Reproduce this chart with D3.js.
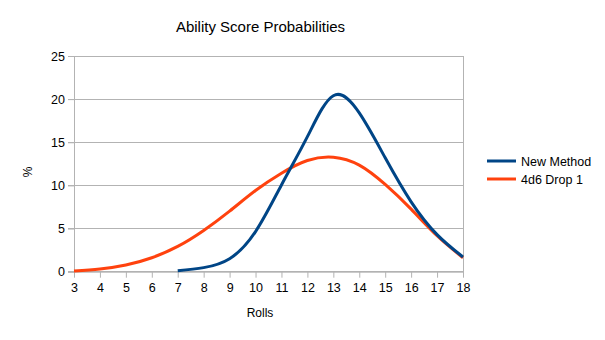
<!DOCTYPE html>
<html>
<head>
<meta charset="utf-8">
<script src="https://cdn.jsdelivr.net/npm/d3@7"></script>
<style>
  html, body { margin: 0; padding: 0; background: #fff; }
  svg { display: block; font-family: "Liberation Sans", Arial, sans-serif; }
</style>
</head>
<body>
<svg id="chart" width="605" height="340"></svg>
<script>
// Roll totals on the x axis
const rolls = [3, 4, 5, 6, 7, 8, 9, 10, 11, 12, 13, 14, 15, 16, 17, 18];
// Percent chance of each total (null where the method cannot produce it)
const newMethod = [null, null, null, null, 0.1, 0.47, 1.5, 4.65, 10.05, 15.65, 20.4, 18.4, 13.2, 8.1, 4.3, 1.7];
const drop1 = [0.08, 0.31, 0.77, 1.62, 2.93, 4.78, 7.02, 9.41, 11.42, 12.89, 13.27, 12.35, 10.11, 7.25, 4.17, 1.62];
const yTicks = [0, 5, 10, 15, 20, 25];
const seriesNames = ["New Method", "4d6 Drop 1"];
const seriesColors = ["#004586", "#ff420e"];

const svg = d3.select("#chart");
const plotLeft = 74, plotRight = 463, plotTop = 56, plotBottom = 271.7;

const x = d3.scaleLinear().domain([3, 18]).range([plotLeft, plotRight]);
const y = d3.scaleLinear().domain([0, 25]).range([plotBottom, plotTop]);

// Title
svg.append("text")
  .attr("x", 260.5).attr("y", 32)
  .attr("text-anchor", "middle")
  .attr("font-size", 15)
  .attr("fill", "#000")
  .text("Ability Score Probabilities");

// Horizontal grid lines
svg.append("g")
  .selectAll("line")
  .data(yTicks)
  .join("line")
  .attr("x1", plotLeft - 6).attr("x2", plotRight)
  .attr("y1", d => y(d)).attr("y2", d => y(d))
  .attr("stroke", "#b3b3b3").attr("stroke-width", 1)
  .attr("shape-rendering", "crispEdges");

// Y axis
const yAxis = svg.append("g")
  .attr("transform", `translate(${plotLeft},0)`)
  .call(d3.axisLeft(y).tickValues(yTicks).tickSize(6).tickPadding(3));
yAxis.select(".domain").attr("stroke", "#b3b3b3");
yAxis.selectAll(".tick line").attr("stroke", "#b3b3b3");
yAxis.selectAll(".tick text")
  .attr("font-size", 12.5).attr("fill", "#000")
  .attr("font-family", "Liberation Sans, Arial, sans-serif");

// Right border of the plot
svg.append("line")
  .attr("x1", plotRight).attr("x2", plotRight)
  .attr("y1", plotTop).attr("y2", plotBottom)
  .attr("stroke", "#b3b3b3").attr("shape-rendering", "crispEdges");

// X axis
const xAxis = svg.append("g")
  .attr("transform", `translate(0,${plotBottom})`)
  .call(d3.axisBottom(x).tickValues(rolls).tickFormat(d3.format("d")).tickSize(6).tickPadding(5).tickSizeOuter(0));
xAxis.select(".domain").attr("stroke", "#b3b3b3");
xAxis.selectAll(".tick line").attr("stroke", "#b3b3b3");
xAxis.selectAll(".tick text")
  .attr("font-size", 12.5).attr("fill", "#000")
  .attr("font-family", "Liberation Sans, Arial, sans-serif");

// Axis titles
svg.append("text")
  .attr("transform", "translate(32,172) rotate(-90)")
  .attr("text-anchor", "middle")
  .attr("font-size", 12).attr("fill", "#000")
  .text("%");
svg.append("text")
  .attr("x", 260).attr("y", 317)
  .attr("text-anchor", "middle")
  .attr("font-size", 12).attr("fill", "#000")
  .text("Rolls");

// Smoothed series lines
const line = d3.line()
  .x(d => x(d[0]))
  .y(d => y(d[1]))
  .curve(d3.curveNatural);

const series = [newMethod, drop1];
// draw 4d6 Drop 1 first so New Method sits on top
[1, 0].forEach(i => {
  const pts = rolls.map((r, k) => [r, series[i][k]]).filter(p => p[1] != null);
  svg.append("path")
    .datum(pts)
    .attr("d", line)
    .attr("fill", "none")
    .attr("stroke", seriesColors[i])
    .attr("stroke-width", 3)
    .attr("stroke-linejoin", "round");
});

// Legend
const legend = svg.append("g");
seriesNames.forEach((name, i) => {
  const ly = 161 + i * 18;
  legend.append("line")
    .attr("x1", 487).attr("x2", 516)
    .attr("y1", ly).attr("y2", ly)
    .attr("stroke", seriesColors[i]).attr("stroke-width", 3);
  legend.append("text")
    .attr("x", 521).attr("y", ly + 4.5)
    .attr("font-size", 12.5).attr("fill", "#000")
    .text(name);
});
</script>
</body>
</html>
